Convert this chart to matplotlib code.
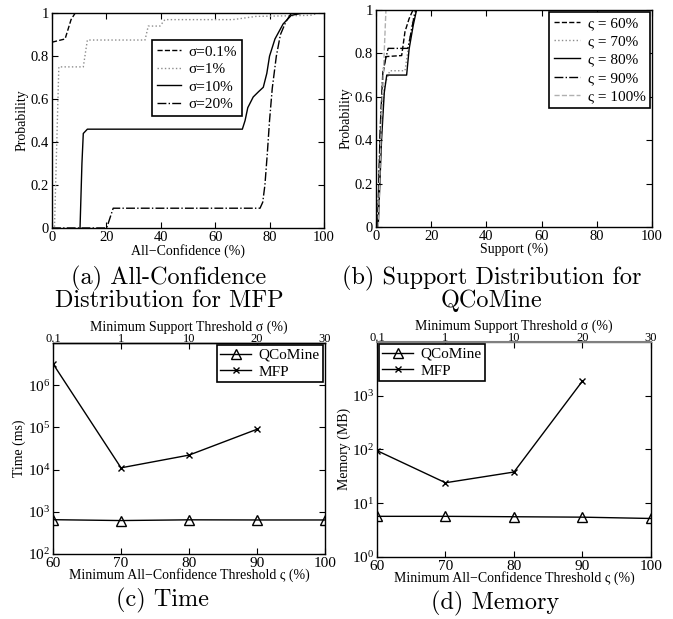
import numpy as np
import matplotlib
matplotlib.use("Agg")
import matplotlib.pyplot as plt

plt.rcParams['font.family'] = ['Liberation Serif', 'DejaVu Serif']
plt.rcParams['mathtext.fontset'] = 'stix'
plt.rcParams['xtick.direction'] = 'in'
plt.rcParams['ytick.direction'] = 'in'
plt.rcParams['xtick.top'] = True
plt.rcParams['ytick.right'] = True
plt.rcParams['axes.linewidth'] = 1.0

# (a) all-confidence CDF for MFP
a_labels = ["σ=0.1%", "σ=1%", "σ=10%", "σ=20%"]
a_x = [
    [0, 4.8, 7.0, 8.5, 100],
    [0, 0.9, 2.5, 11.5, 13, 34.2, 35.4, 39.7, 41.5, 66.5, 75, 95, 98],
    [10.3, 11.0, 11.5, 13, 70, 71, 72, 74, 76, 77.7, 79, 80, 82, 85, 88, 92, 100],
    [0, 20.1, 22.5, 76.5, 77.5, 78.3, 79.2, 80, 81, 82.5, 84, 86, 88, 100],
]
a_y = [
    [0.865, 0.88, 0.97, 1.0, 1.0],
    [0, 0, 0.75, 0.75, 0.875, 0.875, 0.94, 0.94, 0.97, 0.97, 0.985, 0.99, 1.0],
    [0, 0.3, 0.44, 0.46, 0.46, 0.5, 0.56, 0.61, 0.635, 0.655, 0.72, 0.8, 0.88, 0.95, 0.99, 1.0, 1.0],
    [0, 0, 0.092, 0.092, 0.12, 0.2, 0.35, 0.5, 0.65, 0.8, 0.9, 0.96, 1.0, 1.0],
]
a_styles = ['--', ':', '-', '-.']
a_colors = ['black', '#8c8c8c', 'black', 'black']

# (b) support CDF for QCoMine
b_labels = ["ς = 60%", "ς = 70%", "ς = 80%", "ς = 90%", "ς = 100%"]
b_x = [
    [0.6, 1.5, 2.5, 3.5, 9.3, 10.5, 12.0, 13.4, 100],
    [0.7, 1.8, 3.0, 5.0, 10.5, 12.0, 14.0, 100],
    [0.8, 2.0, 3.0, 3.9, 11.1, 12.0, 13.5, 14.7, 100],
    [0.6, 1.5, 2.5, 4.4, 11.5, 12.0, 13.5, 14.5, 100],
    [0.8, 2.0, 3.6, 100],
]
b_y = [
    [0, 0.4, 0.7, 0.785, 0.79, 0.9, 0.96, 1.0, 1.0],
    [0, 0.4, 0.65, 0.72, 0.72, 0.85, 1.0, 1.0],
    [0, 0.4, 0.62, 0.70, 0.70, 0.82, 0.93, 1.0, 1.0],
    [0, 0.45, 0.72, 0.823, 0.823, 0.85, 0.95, 1.0, 1.0],
    [0, 0.5, 1.0, 1.0],
]
b_styles = ['--', ':', '-', '-.', '--']
b_colors = ['black', '#8c8c8c', 'black', 'black', '#b0b0b0']

# (c) time and (d) memory vs thresholds
conf_thr = [60, 70, 80, 90, 100]
sup_labels = ['0.1', '1', '10', '20', '30']
time_qcomine = [650, 620, 645, 640, 640]
time_mfp = [3.2e6, 1.1e4, 2.2e4, 9.0e4]
mem_qcomine = [5.7, 5.7, 5.6, 5.5, 5.2]
mem_mfp = [95, 24, 38, 1870]

fig = plt.figure(figsize=(6.73, 6.19), dpi=100)
axa = fig.add_axes([0.0773, 0.6317, 0.404, 0.347])
axb = fig.add_axes([0.5587, 0.6333, 0.410, 0.3506])
axc = fig.add_axes([0.0788, 0.105, 0.404, 0.341])
axd = fig.add_axes([0.5602, 0.1002, 0.407, 0.3475])

tick_fs = 10.5
lab_fs = 10


def cdf_panel(ax, xs_all, ys_all, styles, colors, labels, xlabel):
    for xs, ys, ls, c, lab in zip(xs_all, ys_all, styles, colors, labels):
        ax.plot(xs, ys, linestyle=ls, color=c, lw=1.0, label=lab)
    ax.set_xlim(0, 100)
    ax.set_ylim(0, 1)
    ax.set_xticks([0, 20, 40, 60, 80, 100])
    ax.set_yticks([0, 0.2, 0.4, 0.6, 0.8, 1])
    ax.set_yticklabels(['0', '0.2', '0.4', '0.6', '0.8', '1'])
    ax.tick_params(labelsize=tick_fs, length=4, pad=2)
    ax.set_xlabel(xlabel, fontsize=lab_fs, labelpad=0)
    ax.set_ylabel("Probability", fontsize=lab_fs, labelpad=2)


cdf_panel(axa, a_x, a_y, a_styles, a_colors, a_labels, "All\u2212Confidence (%)")
leg = axa.legend(loc='upper left', bbox_to_anchor=(0.368, 0.874), borderaxespad=0,
                 fontsize=11, fancybox=False, edgecolor='black', framealpha=1,
                 handlelength=1.6, borderpad=0.3, labelspacing=0.25, handletextpad=0.5)
leg.get_frame().set_linewidth(1.2)

cdf_panel(axb, b_x, b_y, b_styles, b_colors, b_labels, "Support (%)")
leg = axb.legend(loc='upper right', fontsize=11, borderaxespad=0.12,
                 fancybox=False, edgecolor='black', framealpha=1, handlelength=1.7,
                 borderpad=0.3, labelspacing=0.3, handletextpad=0.5)
leg.get_frame().set_linewidth(1.2)


def perf_panel(ax, qc, mfp, ylim, yticks, ylabel, legend_loc):
    ax.plot(conf_thr, qc, color='black', lw=1.0, marker='^', markersize=7,
            markerfacecolor='none', markeredgewidth=1.0, label='QCoMine')
    ax.plot(conf_thr[:len(mfp)], mfp, color='black', lw=1.0, marker='x',
            markersize=5, markeredgewidth=1.0, label='MFP')
    ax.set_yscale('log')
    ax.set_xlim(60, 100)
    ax.set_ylim(*ylim)
    ax.set_xticks(conf_thr)
    ax.set_yticks(yticks)
    ax.minorticks_off()
    ax.tick_params(labelsize=11, length=4, pad=2)
    ax.tick_params(axis='x', top=False)
    ax.set_xlabel("Minimum All\u2212Confidence Threshold ς (%)", fontsize=lab_fs, labelpad=-1)
    ax.set_ylabel(ylabel, fontsize=lab_fs, labelpad=1)
    top = ax.secondary_xaxis('top')
    top.set_xticks(conf_thr)
    top.set_xticklabels(sup_labels)
    top.tick_params(labelsize=9, direction='in', length=4, pad=-1.5)
    top.set_xlabel("Minimum Support Threshold σ (%)", fontsize=lab_fs, labelpad=1.5)
    leg = ax.legend(loc=legend_loc, fontsize=11, borderaxespad=0.15,
                    fancybox=False, edgecolor='black', framealpha=1,
                    handlelength=2.0, borderpad=0.2, labelspacing=0.2,
                    handletextpad=0.5)
    leg.get_frame().set_linewidth(1.2)
    return top


perf_panel(axc, time_qcomine, time_mfp, (1e2, 1e7), [1e2, 1e3, 1e4, 1e5, 1e6],
           "Time (ms)", 'upper right')
topd = perf_panel(axd, mem_qcomine, mem_mfp, (1e0, 1e4), [1e0, 1e1, 1e2, 1e3],
                  "Memory (MB)", 'upper left')
axd.spines['top'].set_color('#808080')
axd.spines['top'].set_linewidth(1.5)
topd.spines['top'].set_color('#808080')

cap_fs = 17.5
cap = dict(family='cmr10', fontsize=cap_fs, ha='center', va='center')
fig.text(169 / 673, 1 - 278 / 619, "(a) All-Confidence", **cap)
fig.text(169 / 673, 1 - 301 / 619, "Distribution for MFP", **cap)
fig.text(492 / 673, 1 - 278 / 619, "(b) Support Distribution for", **cap)
fig.text(492 / 673, 1 - 301 / 619, "QCoMine", **cap)
fig.text(163 / 673, 1 - 600 / 619, "(c) Time", **cap)
fig.text(495 / 673, 1 - 603 / 619, "(d) Memory", **cap)

fig.savefig("out.png", dpi=100)
